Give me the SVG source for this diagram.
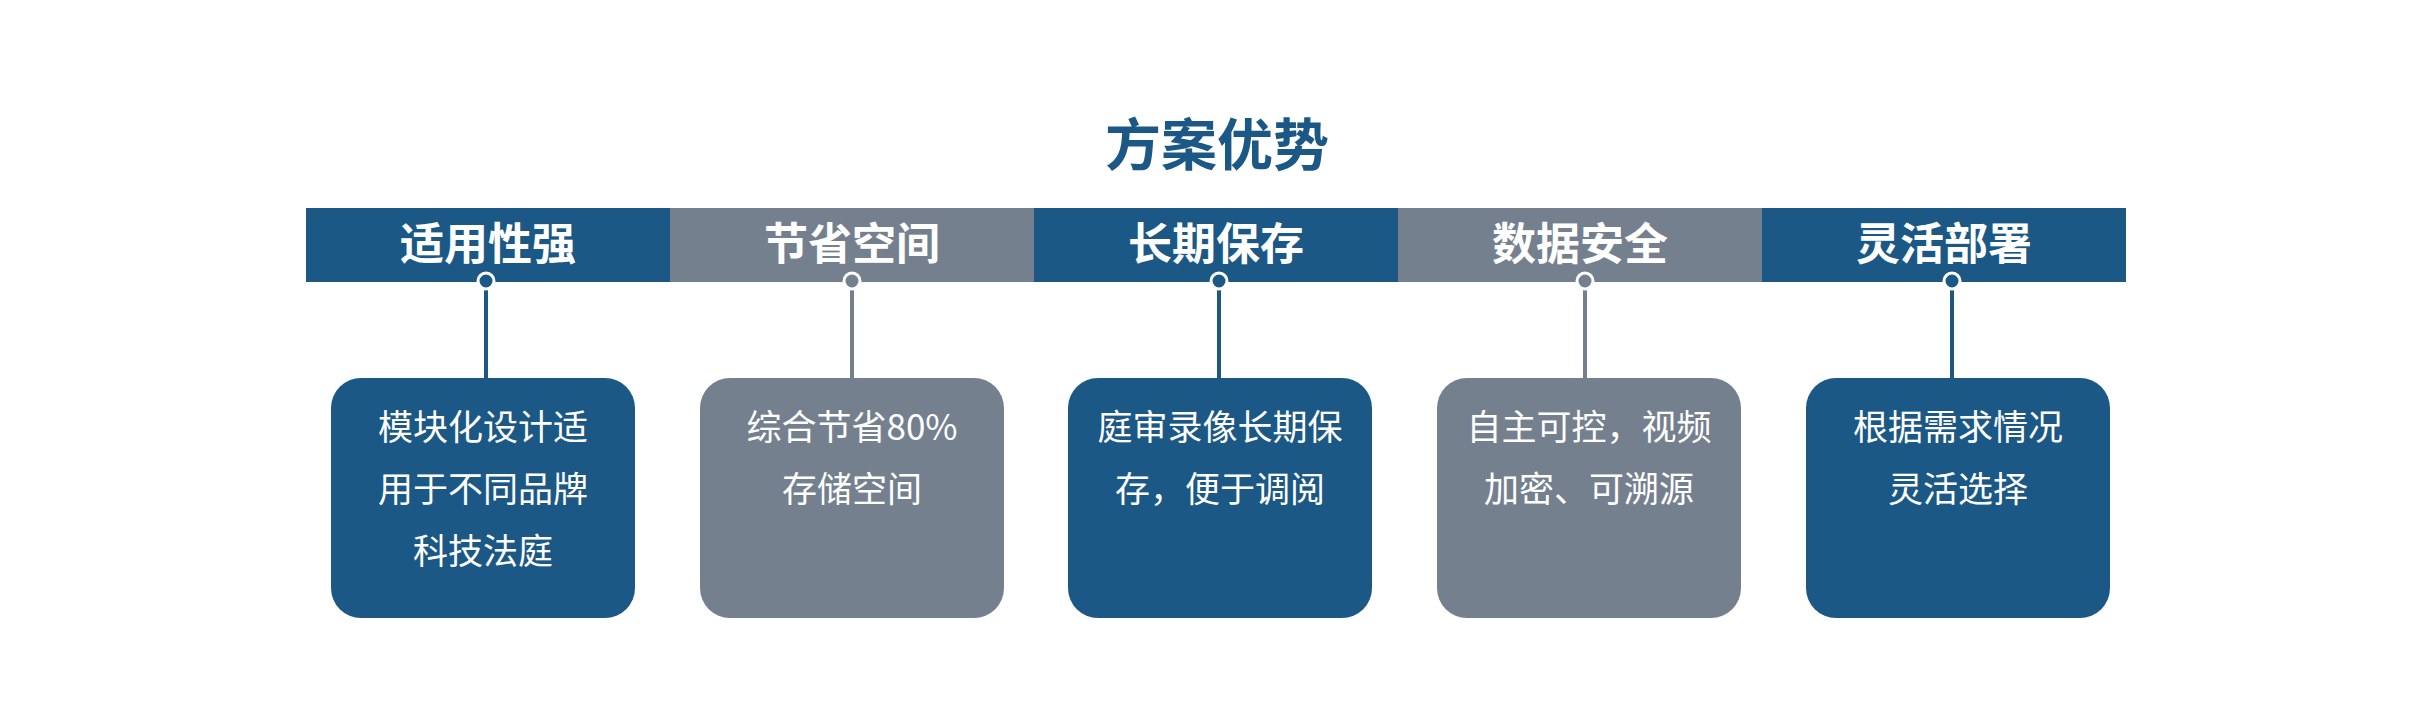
<svg xmlns="http://www.w3.org/2000/svg" width="2433" height="720" viewBox="0 0 2433 720">
<style>
.b{fill:#1b5886}.g{fill:#75808f}
.h{font-family:"Noto Sans CJK SC",sans-serif;font-weight:bold;font-size:44px;fill:#fff;text-anchor:middle}
.t{font-family:"Noto Sans CJK SC",sans-serif;font-size:35px;fill:#fff;text-anchor:middle}
.lb{stroke:#1b5886;stroke-width:4}.lg{stroke:#75808f;stroke-width:4}
</style>
<rect width="2433" height="720" fill="#fff"/>
<text x="1217" y="165" font-family="Noto Sans CJK SC,sans-serif" font-weight="bold" font-size="56" fill="#1b5886" text-anchor="middle">方案优势</text>
<g id="band">
<rect class="b" x="306" y="208" width="364" height="74"/>
<rect class="g" x="670" y="208" width="364" height="74"/>
<rect class="b" x="1034" y="208" width="364" height="74"/>
<rect class="g" x="1398" y="208" width="364" height="74"/>
<rect class="b" x="1762" y="208" width="364" height="74"/>
<text class="h" x="488" y="260">适用性强</text>
<text class="h" x="852" y="260">节省空间</text>
<text class="h" x="1216" y="260">长期保存</text>
<text class="h" x="1580" y="260">数据安全</text>
<text class="h" x="1944" y="260">灵活部署</text>
</g>
<g id="connectors">
<line class="lb" x1="486" y1="282" x2="486" y2="380"/>
<line class="lg" x1="852" y1="282" x2="852" y2="380"/>
<line class="lb" x1="1219" y1="282" x2="1219" y2="380"/>
<line class="lg" x1="1585" y1="282" x2="1585" y2="380"/>
<line class="lb" x1="1952" y1="282" x2="1952" y2="380"/>
<circle cx="486" cy="281" r="8" fill="#1b5886" stroke="#fff" stroke-width="3"/>
<circle cx="852" cy="281" r="8" fill="#75808f" stroke="#fff" stroke-width="3"/>
<circle cx="1219" cy="281" r="8" fill="#1b5886" stroke="#fff" stroke-width="3"/>
<circle cx="1585" cy="281" r="8" fill="#75808f" stroke="#fff" stroke-width="3"/>
<circle cx="1952" cy="281" r="8" fill="#1b5886" stroke="#fff" stroke-width="3"/>
</g>
<g id="n1"><rect class="b" x="331" y="378" width="304" height="240" rx="30"/>
<text class="t" x="483" y="440">模块化设计适</text><text class="t" x="483" y="502">用于不同品牌</text><text class="t" x="483" y="564">科技法庭</text></g>
<g id="n2"><rect class="g" x="700" y="378" width="304" height="240" rx="30"/>
<text class="t" x="852" y="440">综合节省80%</text><text class="t" x="852" y="502">存储空间</text></g>
<g id="n3"><rect class="b" x="1068" y="378" width="304" height="240" rx="30"/>
<text class="t" x="1220" y="440">庭审录像长期保</text><text class="t" x="1220" y="502">存，便于调阅</text></g>
<g id="n4"><rect class="g" x="1437" y="378" width="304" height="240" rx="30"/>
<text class="t" x="1589" y="440">自主可控，视频</text><text class="t" x="1589" y="502">加密、可溯源</text></g>
<g id="n5"><rect class="b" x="1806" y="378" width="304" height="240" rx="30"/>
<text class="t" x="1958" y="440">根据需求情况</text><text class="t" x="1958" y="502">灵活选择</text></g>
</svg>
